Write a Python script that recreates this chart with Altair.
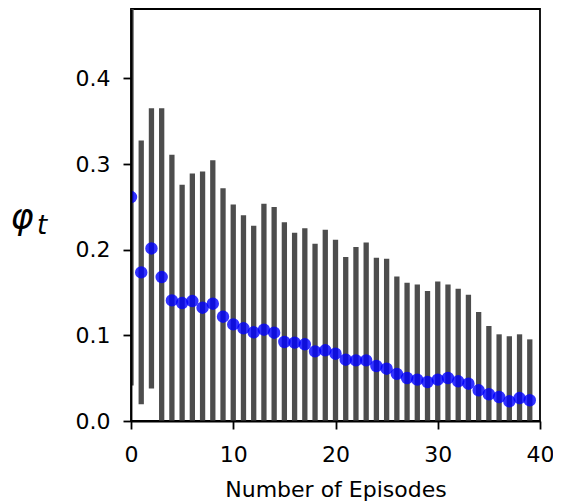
import altair as alt
import pandas as pd

episodes = list(range(40))
mean_phi = [0.2614, 0.1735, 0.2015, 0.168, 0.1408, 0.1377, 0.140, 0.1323, 0.137, 0.1218,
            0.1128, 0.1082, 0.1035, 0.1066, 0.1031, 0.0922, 0.0915, 0.0895, 0.0813, 0.0825,
            0.0786, 0.0716, 0.0708, 0.0708, 0.0642, 0.0611, 0.0550, 0.0502, 0.0483, 0.0455,
            0.0483, 0.0502, 0.0463, 0.0436, 0.0358, 0.0312, 0.0280, 0.0230, 0.0268, 0.0242]
std_phi = [0.220, 0.154, 0.1635, 0.197, 0.170, 0.138, 0.149, 0.159, 0.1675, 0.150,
           0.140, 0.132, 0.1245, 0.147, 0.1466, 0.1397, 0.1283, 0.1354, 0.1257, 0.1408,
           0.133, 0.1198, 0.1322, 0.1377, 0.1264, 0.1284, 0.1138, 0.1113, 0.1112, 0.1062,
           0.1147, 0.1093, 0.1082, 0.1039, 0.0914, 0.0797, 0.0732, 0.0758, 0.0744, 0.0711]
x_ticks = [0, 10, 20, 30, 40]
y_ticks = [0.0, 0.1, 0.2, 0.3, 0.4]

df = pd.DataFrame({"episode": episodes, "mean": mean_phi, "std": std_phi})
df["lower"] = df["mean"] - df["std"]
df["upper"] = df["mean"] + df["std"]

FONT = "DejaVu Sans"

xscale = alt.Scale(domain=[0, 40], nice=False, zero=False, padding=0)
xaxis = alt.Axis(values=x_ticks, title="Number of Episodes", format="d",
                 labelFlush=False, zindex=1, labelPadding=15, titlePadding=14)
yscale = alt.Scale(domain=[0, 0.481], nice=False, padding=0)
yaxis = alt.Axis(values=y_ticks, format=".1f", title=None, labelFlush=False, zindex=1,
                 labelPadding=13)

base = alt.Chart(df)
bars = base.mark_bar(width=5.3, color="#4d4d4d", clip=True).encode(
    x=alt.X("episode:Q", scale=xscale, axis=xaxis),
    y=alt.Y("lower:Q", scale=yscale, axis=yaxis),
    y2="upper:Q",
)
points = base.mark_circle(size=120, color="#0000ff", opacity=0.8, stroke="#0000ff",
                          strokeWidth=1.5, clip=True).encode(
    x=alt.X("episode:Q", scale=xscale, axis=xaxis),
    y=alt.Y("mean:Q", scale=yscale, axis=yaxis),
)

phi = alt.Chart(pd.DataFrame({"s": ["φ"]})).mark_text(
    font=FONT, fontStyle="italic", fontSize=35, align="center", baseline="alphabetic",
    color="black").encode(text="s:N", x=alt.value(-109), y=alt.value(220))
sub = alt.Chart(pd.DataFrame({"s": ["t"]})).mark_text(
    font=FONT, fontStyle="italic", fontSize=26, align="center", baseline="alphabetic",
    color="black").encode(text="s:N", x=alt.value(-89), y=alt.value(225))

chart = alt.layer(bars, points, phi, sub).properties(
    width=409, height=412,
    autosize=alt.AutoSizeParams(type="none"),
    padding={"left": 123, "top": 1, "right": 13, "bottom": 84},
).configure_view(
    stroke="black", strokeWidth=1.8
).configure_axis(
    grid=False, domain=True, domainColor="black", domainWidth=1.8,
    tickColor="black", tickWidth=1.8, tickSize=8,
    labelFont=FONT, labelFontSize=22, labelColor="black",
    titleFont=FONT, titleFontSize=22, titleFontWeight="normal", titleColor="black",
)

chart.save("out.html", embed_options={"renderer": "svg", "actions": False})
